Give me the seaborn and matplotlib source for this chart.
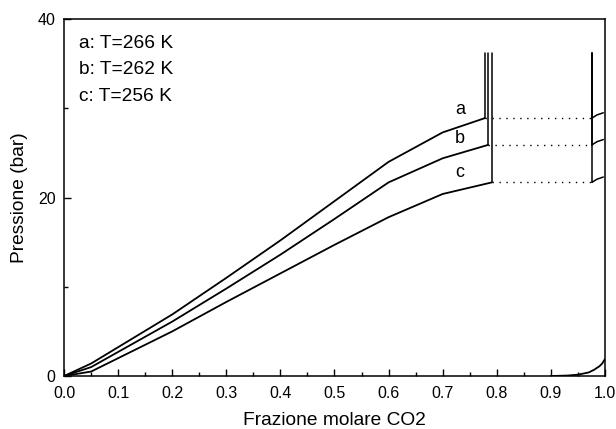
import numpy as np
import pandas as pd
import matplotlib
matplotlib.use("Agg")
import matplotlib.pyplot as plt
from matplotlib.ticker import MultipleLocator
import seaborn as sns

# liquid branches (x = CO2 mole fraction, P in bar)
x_a = [0.0, 0.05, 0.2, 0.3, 0.4, 0.5, 0.6, 0.7, 0.778]
p_a = [0.0, 1.4, 6.9, 11.0, 15.2, 19.6, 24.0, 27.3, 28.9]
x_b = [0.0, 0.05, 0.2, 0.3, 0.4, 0.5, 0.6, 0.7, 0.784]
p_b = [0.0, 1.0, 6.1, 9.8, 13.6, 17.6, 21.7, 24.4, 25.9]
x_c = [0.0, 0.05, 0.2, 0.3, 0.4, 0.5, 0.6, 0.7, 0.791]
p_c = [0.0, 0.5, 5.0, 8.3, 11.5, 14.7, 17.8, 20.4, 21.7]

labels = ["a", "b", "c"]
temps = ["a: T=266 K", "b: T=262 K", "c: T=256 K"]

# right-hand branches
x_right = 0.976
x_right_end = 0.997
p_right_rise = 0.6
p_top = 36.2

# gas branch near pure CO2
x_gas = [0.90, 0.93, 0.95, 0.97, 0.98, 0.99, 0.995, 1.0]
p_gas = [0.0, 0.05, 0.15, 0.4, 0.7, 1.1, 1.4, 1.9]


def line(ax, xs, ys, lw=1.2):
    sns.lineplot(x=xs, y=ys, ax=ax, color="black", lw=lw,
                 sort=False, estimator=None)


def main():
    sns.set_style("ticks")
    plt.rcParams["font.family"] = ["Liberation Sans", "DejaVu Sans"]
    plt.rcParams["text.color"] = "black"
    plt.rcParams["axes.labelcolor"] = "black"
    plt.rcParams["xtick.color"] = "black"
    plt.rcParams["ytick.color"] = "black"

    fig = plt.figure(figsize=(6.16, 4.29), dpi=100)
    ax = fig.add_axes([0.104, 0.1235, 0.878, 0.832])

    branches = [(x_a, p_a), (x_b, p_b), (x_c, p_c)]
    for xs, ps in branches:
        line(ax, xs, ps, lw=1.3)
        # vertical rise at the end of the liquid branch
        line(ax, [xs[-1], xs[-1]], [ps[-1], p_top], lw=1.1)
        # dotted tie line
        ax.plot([xs[-1], x_right], [ps[-1], ps[-1]], color="black",
                lw=1.0, linestyle=(0, (1, 4)))
        # right-hand branch
        line(ax, [x_right, x_right], [p_top, ps[-1]], lw=1.1)
        line(ax, [x_right, 0.985, x_right_end],
             [ps[-1], ps[-1] + 0.35, ps[-1] + p_right_rise], lw=1.1)

    line(ax, x_gas, p_gas, lw=1.3)

    # curve labels
    label_x = 0.732
    label_y = [29.9, 26.6, 22.8]
    for lab, ly in zip(labels, label_y):
        ax.text(label_x, ly, lab, fontsize=13, ha="center", va="center")

    for i, t in enumerate(temps):
        ax.text(0.028, 37.3 - 3.0 * i, t, fontsize=13.8, ha="left", va="center")

    ax.set_xlim(0, 1.0)
    ax.set_ylim(0, 40)
    ax.xaxis.set_major_locator(MultipleLocator(0.1))
    ax.xaxis.set_minor_locator(MultipleLocator(0.05))
    ax.yaxis.set_major_locator(MultipleLocator(20))
    ax.yaxis.set_minor_locator(MultipleLocator(10))
    ax.xaxis.set_major_formatter(plt.FuncFormatter(lambda v, pos: f"{v:.1f}"))
    ax.tick_params(which="major", direction="in", length=5, width=1,
                   labelsize=11.5)
    ax.tick_params(axis="x", which="major", pad=7)
    ax.tick_params(axis="y", which="major", pad=6)
    ax.tick_params(which="minor", direction="in", length=3, width=1)

    for s in ax.spines.values():
        s.set_visible(True)
        s.set_linewidth(1.1)
        s.set_color("black")

    ax.set_xlabel("Frazione molare CO2", fontsize=13.8)
    ax.set_ylabel("Pressione (bar)", fontsize=13.8)
    ax.xaxis.set_label_coords(0.5, -0.1)
    ax.yaxis.set_label_coords(-0.067, 0.5)

    fig.savefig("out.png", dpi=100)


if __name__ == "__main__":
    main()
